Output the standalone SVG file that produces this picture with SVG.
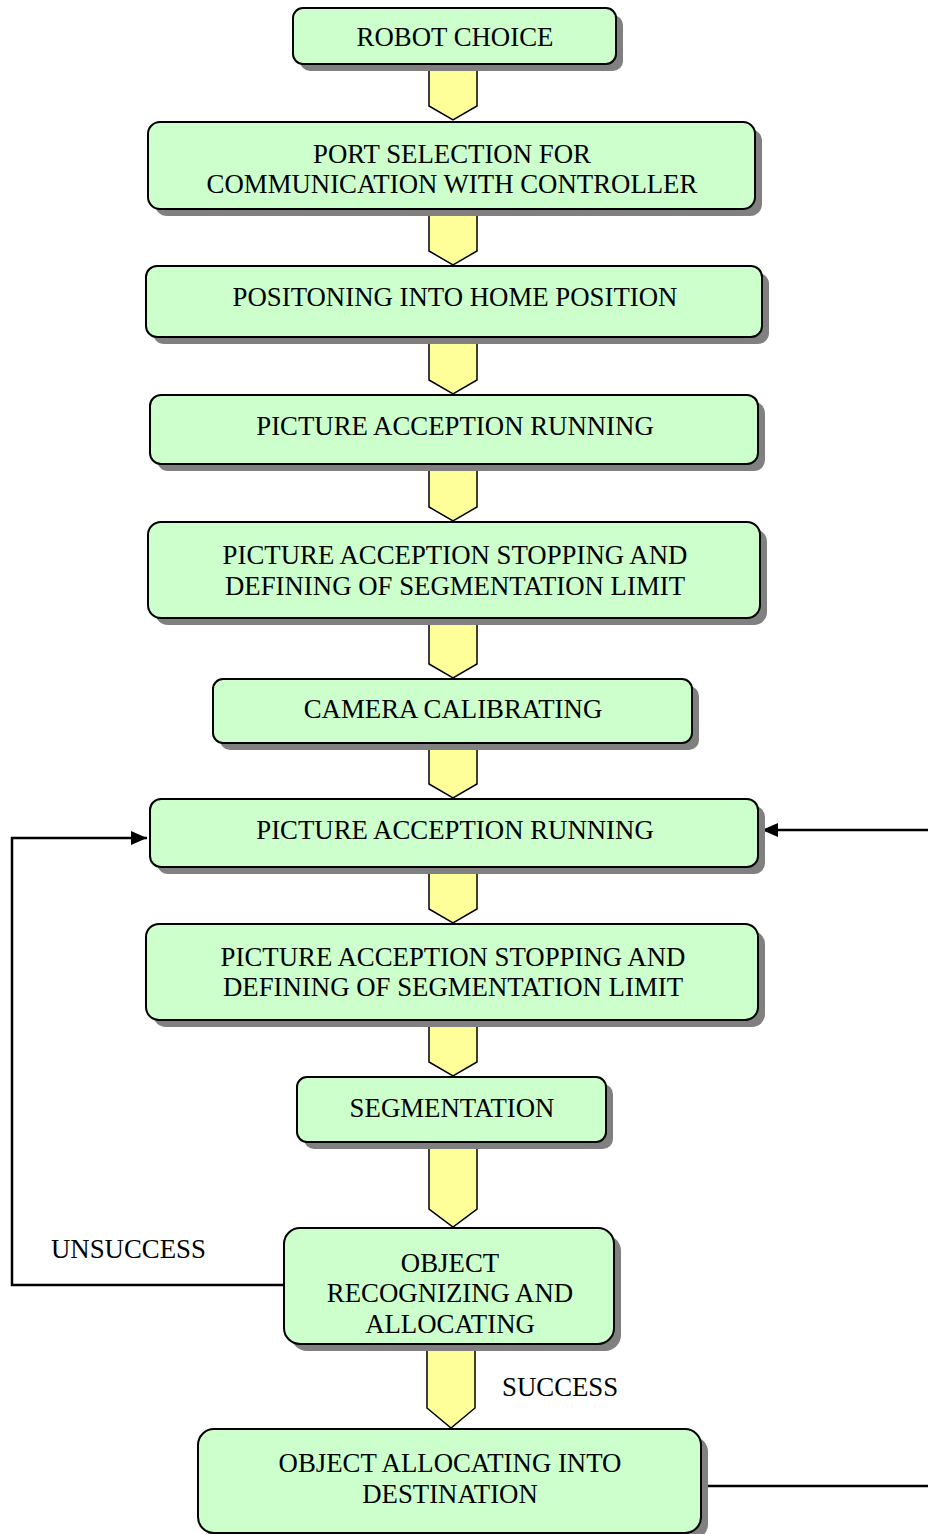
<svg xmlns="http://www.w3.org/2000/svg" width="928" height="1534" viewBox="0 0 928 1534">
<defs>
<style>
.sh{fill:#808080}
.bx{fill:#CCFFCC;stroke:#000;stroke-width:2}
.ar{fill:#FFFF99;stroke:#000;stroke-width:1.5;stroke-linejoin:miter}
.t{font-family:"Liberation Serif","Times New Roman",serif;font-size:26.8px;fill:#000;text-anchor:middle}
.tl{font-family:"Liberation Serif","Times New Roman",serif;font-size:26.8px;fill:#000}
.ln{fill:none;stroke:#000;stroke-width:2.5}
</style>
<marker id="ah" viewBox="0 0 16 14" refX="16" refY="7" markerWidth="16" markerHeight="14" markerUnits="userSpaceOnUse" orient="auto">
<path d="M0,0 L16,7 L0,14 z" fill="#000"/>
</marker>
</defs>
<rect width="928" height="1534" fill="#fff"/>
<g id="connectors">
<polygon class="ar" points="429,64 477,64 477,106 453,120 429,106"/>
<polygon class="ar" points="429,209 477,209 477,251 453,265 429,251"/>
<polygon class="ar" points="429,337 477,337 477,380 453,394 429,380"/>
<polygon class="ar" points="429,464 477,464 477,507 453,521 429,507"/>
<polygon class="ar" points="429,618 477,618 477,664 453,678 429,664"/>
<polygon class="ar" points="429,743 477,743 477,784 453,798 429,784"/>
<polygon class="ar" points="429,867 477,867 477,909 453,923 429,909"/>
<polygon class="ar" points="429,1020 477,1020 477,1062 453,1076 429,1062"/>
<polygon class="ar" points="429,1142 477,1142 477,1209 453,1227 429,1209"/>
<polygon class="ar" points="427,1344 475,1344 475,1408 451,1428 427,1408"/>
<path class="ln" d="M284,1285 L12,1285 L12,838 L147,838" marker-end="url(#ah)"/>
<path class="ln" d="M701,1486 L928,1486"/>
<path class="ln" d="M928,830 L762,830" marker-end="url(#ah)"/>
<text class="tl" x="51" y="1258">UNSUCCESS</text>
<text class="tl" x="502" y="1396">SUCCESS</text>
</g>
<g id="n1"><rect class="sh" x="300" y="15" width="323" height="56" rx="10"/><rect class="bx" x="293" y="8" width="323" height="56" rx="10"/><text class="t" x="455" y="46">ROBOT CHOICE</text></g>
<g id="n2"><rect class="sh" x="155" y="129" width="607" height="87" rx="12"/><rect class="bx" x="148" y="122" width="607" height="87" rx="12"/><text class="t" x="452" y="163">PORT SELECTION FOR</text><text class="t" x="452" y="193">COMMUNICATION WITH CONTROLLER</text></g>
<g id="n3"><rect class="sh" x="153" y="273" width="616" height="71" rx="11"/><rect class="bx" x="146" y="266" width="616" height="71" rx="11"/><text class="t" x="455" y="306">POSITONING INTO HOME POSITION</text></g>
<g id="n4"><rect class="sh" x="157" y="402" width="608" height="69" rx="11"/><rect class="bx" x="150" y="395" width="608" height="69" rx="11"/><text class="t" x="455" y="435">PICTURE ACCEPTION RUNNING</text></g>
<g id="n5"><rect class="sh" x="155" y="529" width="612" height="96" rx="13"/><rect class="bx" x="148" y="522" width="612" height="96" rx="13"/><text class="t" x="455" y="564">PICTURE ACCEPTION STOPPING AND</text><text class="t" x="455" y="595">DEFINING OF SEGMENTATION LIMIT</text></g>
<g id="n6"><rect class="sh" x="220" y="686" width="479" height="64" rx="10"/><rect class="bx" x="213" y="679" width="479" height="64" rx="10"/><text class="t" x="453" y="718">CAMERA CALIBRATING</text></g>
<g id="n7"><rect class="sh" x="157" y="806" width="608" height="68" rx="11"/><rect class="bx" x="150" y="799" width="608" height="68" rx="11"/><text class="t" x="455" y="839">PICTURE ACCEPTION RUNNING</text></g>
<g id="n8"><rect class="sh" x="153" y="931" width="612" height="96" rx="13"/><rect class="bx" x="146" y="924" width="612" height="96" rx="13"/><text class="t" x="453" y="966">PICTURE ACCEPTION STOPPING AND</text><text class="t" x="453" y="996">DEFINING OF SEGMENTATION LIMIT</text></g>
<g id="n9"><rect class="sh" x="304" y="1084" width="309" height="65" rx="10"/><rect class="bx" x="297" y="1077" width="309" height="65" rx="10"/><text class="t" x="452" y="1117">SEGMENTATION</text></g>
<g id="n10"><rect class="sh" x="291" y="1235" width="330" height="116" rx="16"/><rect class="bx" x="284" y="1228" width="330" height="116" rx="16"/><text class="t" x="450" y="1272">OBJECT</text><text class="t" x="450" y="1302">RECOGNIZING AND</text><text class="t" x="450" y="1333">ALLOCATING</text></g>
<g id="n11"><rect class="sh" x="205" y="1436" width="503" height="104" rx="16"/><rect class="bx" x="198" y="1429" width="503" height="104" rx="16"/><text class="t" x="450" y="1472">OBJECT ALLOCATING INTO</text><text class="t" x="450" y="1503">DESTINATION</text></g>
</svg>
